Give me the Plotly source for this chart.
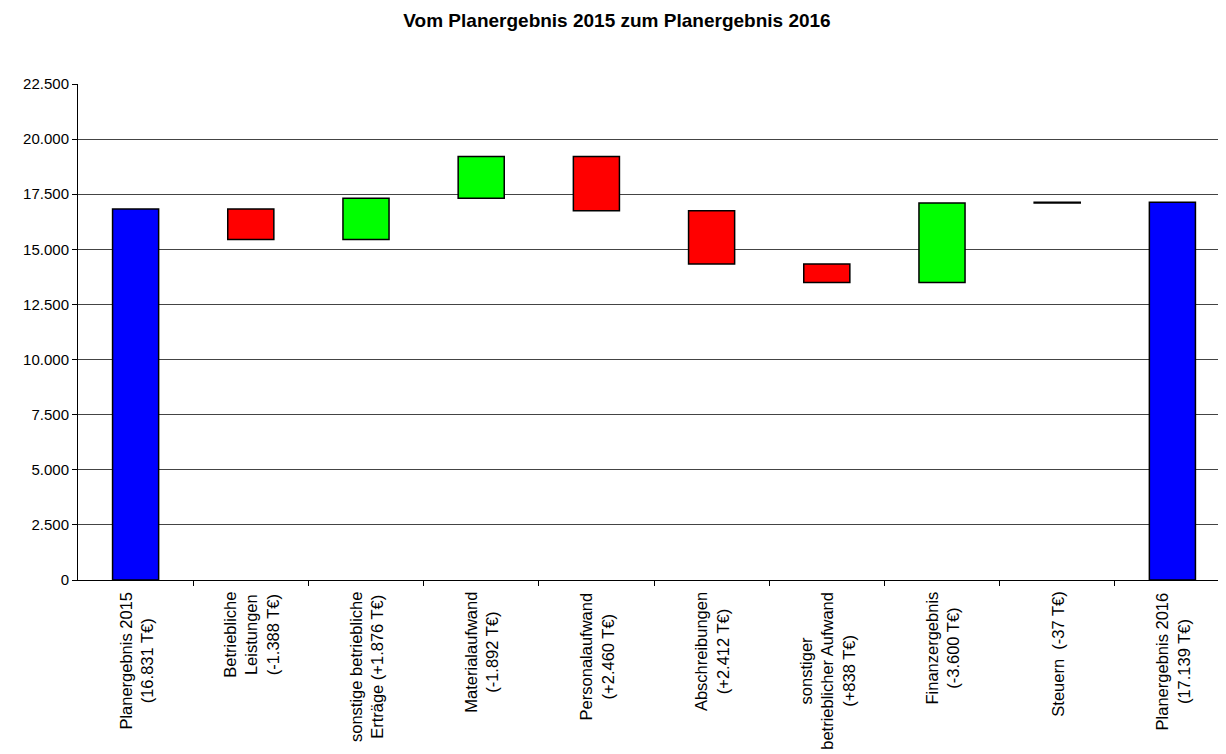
import plotly.graph_objects as go

categories = [
    "Planergebnis 2015<br>(16.831 T€)",
    "Betriebliche<br>Leistungen<br>(-1.388 T€)",
    "sonstige betriebliche<br>Erträge (+1.876 T€)",
    "Materialaufwand<br>(-1.892 T€)",
    "Personalaufwand<br>(+2.460 T€)",
    "Abschreibungen<br>(+2.412 T€)",
    "sonstiger<br>betrieblicher Aufwand<br>(+838 T€)",
    "Finanzergebnis<br>(-3.600 T€)",
    "Steuern  (-37 T€)",
    "Planergebnis 2016<br>(17.139 T€)",
]
bar_base = [0, 15443, 15443, 17319, 16751, 14339, 13501, 13501, 17101, 0]
bar_height = [16831, 1388, 1876, 1892, 2460, 2412, 838, 3600, 37, 17139]
bar_colors = ["#0000FF", "#FF0000", "#00FF00", "#00FF00", "#FF0000",
              "#FF0000", "#FF0000", "#00FF00", "#00FF00", "#0000FF"]
y_ticks = [0, 2500, 5000, 7500, 10000, 12500, 15000, 17500, 20000, 22500]

FONT = "Arial, Liberation Sans, sans-serif"
xs = list(range(len(categories)))

W, H = 1218, 746

fig = go.Figure()
fig.add_trace(go.Bar(
    x=xs, y=bar_height, base=bar_base, width=0.4,
    marker=dict(color=bar_colors, line=dict(color="black", width=1.5)),
    hoverinfo="skip", showlegend=False,
))

for i, lab in enumerate(categories):
    fig.add_annotation(
        x=i, y=0, xref="x", yref="y", text=lab, textangle=-90,
        showarrow=False, xanchor="center", yanchor="top", align="center",
        yshift=-10, font=dict(family=FONT, size=16.5, color="black"),
    )

fig.update_layout(
    width=W, height=H,
    margin=dict(l=70, r=0, t=76, b=174),
    paper_bgcolor="white", plot_bgcolor="white",
    separators=",.",
    title=dict(text="<b>Vom Planergebnis 2015 zum Planergebnis 2016</b>",
               x=0.5, xanchor="center", y=1 - 12 / H, yanchor="middle",
               font=dict(family=FONT, size=19, color="black")),
    font=dict(family=FONT, size=15, color="black"),
    bargap=0.6,
)
fig.update_xaxes(
    range=[-0.5, -0.5 + (W - 70) / 115.2], showgrid=False, showticklabels=False,
    ticks="outside", ticklen=5, tickcolor="black", tickvals=[x + 0.5 for x in xs[:-1]],
    showline=True, linecolor="black", linewidth=1, zeroline=False,
)
fig.update_yaxes(
    range=[0, 22500], tickvals=y_ticks, tickformat=",d",
    showgrid=True, gridcolor="#444444", gridwidth=1,
    ticks="outside", ticklen=5, tickcolor="black",
    showline=True, linecolor="black", linewidth=1, zeroline=False,
    tickfont=dict(family=FONT, size=15, color="black"),
)

fig.write_html("out.html")
